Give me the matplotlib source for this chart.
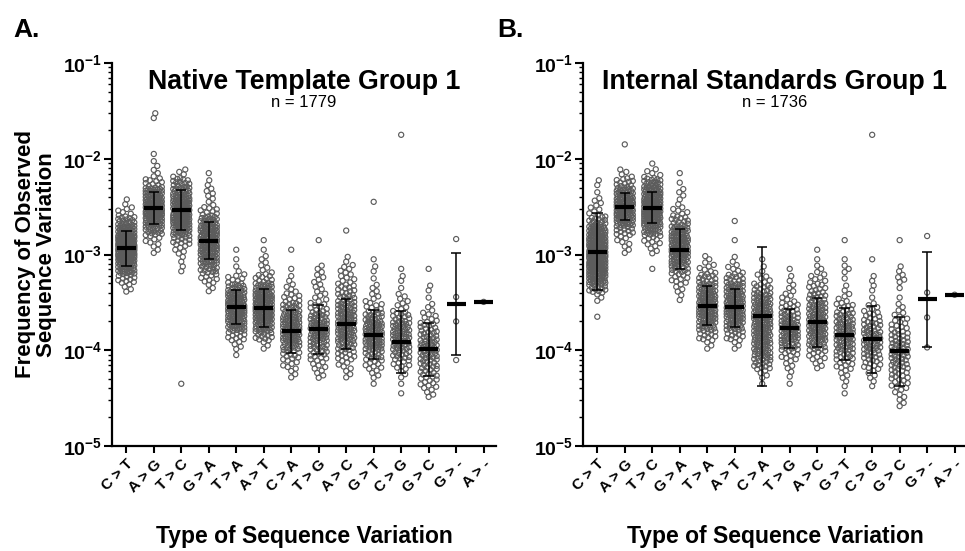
import numpy as np
import matplotlib
matplotlib.use("Agg")
import matplotlib.pyplot as plt
from matplotlib.ticker import LogLocator, NullFormatter

plt.rcParams['font.family'] = ['Liberation Sans', 'DejaVu Sans']
plt.rcParams['mathtext.fontset'] = 'custom'
plt.rcParams['mathtext.rm'] = 'Liberation Sans'
plt.rcParams['mathtext.bf'] = 'Liberation Sans:bold'
plt.rcParams['mathtext.it'] = 'Liberation Sans:italic'

# ---------------- data ----------------
categories = ["C > T", "A > G", "T > C", "G > A", "T > A", "A > T", "C > A",
              "T > G", "A > C", "G > T", "C > G", "G > C", "G > -", "A > -"]

BIN = 0.1  # histogram bin width (decades) used to describe the dense point clouds

# Panel A: Native Template Group 1  (n = 1779)
a_hist_start = [-3.4, -3.0, -4.4, -3.4, -4.1, -4.0, -4.3, -4.3, -4.3, -4.4, -4.5, -4.5]
a_hist_counts = [
    [4, 11, 25, 40, 50, 46, 30, 16, 6, 2],
    [3, 6, 16, 28, 40, 36, 24, 10, 3, 2, 1, 0, 0, 0, 2],
    [1] + [0] * 11 + [2, 2, 5, 12, 22, 32, 34, 32, 22, 14, 4],
    [3, 8, 14, 22, 28, 32, 28, 18, 9, 3, 4, 2, 1],
    [1, 4, 10, 20, 28, 32, 28, 16, 7, 2, 1, 1],
    [3, 12, 22, 30, 34, 30, 20, 10, 4, 3, 1, 1],
    [3, 6, 10, 16, 22, 24, 20, 14, 8, 4, 2, 1, 0, 1],
    [4, 6, 10, 14, 18, 20, 14, 8, 5, 4, 4, 3, 0, 0, 1],
    [3, 5, 10, 14, 18, 20, 18, 16, 12, 10, 6, 5, 2, 0, 0, 1],
    [1, 4, 8, 12, 18, 22, 20, 14, 8, 4, 3, 1, 2, 1, 0, 0, 0, 0, 0, 1],
    [1, 1, 3, 8, 12, 16, 18, 16, 11, 5, 4, 1, 2, 1] + [0] * 13 + [1],
    [4, 8, 10, 12, 14, 16, 13, 10, 6, 3, 1, 2, 0, 1],
]
a_small_values = [[1.45e-3, 3.6e-4, 2.0e-4, 7.9e-5], [3.2e-4]]
a_mean = [1.16e-3, 3.03e-3, 2.90e-3, 1.40e-3, 2.84e-4, 2.77e-4, 1.58e-4,
          1.67e-4, 1.89e-4, 1.46e-4, 1.23e-4, 1.02e-4, 3.02e-4, 3.16e-4]
a_low = [7.67e-4, 2.07e-3, 1.80e-3, 8.93e-4, 1.89e-4, 1.76e-4, 9.44e-5,
         9.12e-5, 1.02e-4, 8.13e-5, 5.75e-5, 5.37e-5, 8.85e-5, None]
a_high = [1.76e-3, 4.50e-3, 4.76e-3, 2.20e-3, 4.29e-4, 4.37e-4, 2.63e-4,
          3.00e-4, 3.46e-4, 2.63e-4, 2.57e-4, 1.91e-4, 1.03e-3, None]

# Panel B: Internal Standards Group 1  (n = 1736)
b_hist_start = [-3.7, -3.0, -3.2, -3.5, -4.0, -4.0, -4.4, -4.4, -4.2, -4.5, -4.4, -4.6]
b_hist_counts = [
    [1, 0, 3, 14, 30, 38, 42, 42, 36, 28, 14, 5, 4, 1, 2],
    [3, 5, 12, 24, 34, 34, 22, 11, 4, 0, 0, 1],
    [1, 0, 4, 8, 18, 30, 38, 38, 30, 17, 5, 1],
    [2, 4, 8, 14, 22, 28, 27, 20, 12, 6, 2, 3, 1, 1],
    [3, 10, 16, 22, 26, 24, 18, 12, 6, 3],
    [3, 10, 16, 22, 26, 24, 18, 12, 5, 2, 0, 1, 0, 1],
    [1, 4, 12, 16, 18, 20, 22, 22, 20, 16, 11, 5, 2, 1],
    [1, 2, 4, 8, 14, 18, 18, 14, 10, 5, 3, 2, 1],
    [4, 8, 14, 18, 20, 18, 16, 12, 9, 6, 3, 1, 1],
    [1, 2, 4, 8, 12, 15, 17, 16, 13, 9, 4, 2, 1, 3, 1, 0, 1],
    [2, 4, 9, 12, 15, 15, 12, 9, 5, 1, 2, 2, 0, 1] + [0] * 12 + [1],
    [3, 4, 8, 10, 12, 13, 13, 11, 8, 5, 3, 1, 1, 4, 2, 0, 0, 1],
]
b_small_values = [[1.56e-3, 4.0e-4, 2.2e-4, 1.07e-4], [3.8e-4]]
b_mean = [1.07e-3, 3.16e-3, 3.09e-3, 1.12e-3, 2.92e-4, 2.82e-4, 2.26e-4,
          1.69e-4, 1.95e-4, 1.46e-4, 1.30e-4, 9.8e-5, 3.47e-4, 3.80e-4]
b_low = [4.22e-4, 2.29e-3, 2.11e-3, 7.03e-4, 1.82e-4, 1.76e-4, 4.19e-5,
         1.05e-4, 1.07e-4, 7.94e-5, 5.75e-5, 4.27e-5, 1.07e-4, None]
b_high = [2.72e-3, 4.34e-3, 4.50e-3, 1.83e-3, 4.72e-4, 4.37e-4, 1.21e-3,
          2.72e-4, 3.51e-4, 2.75e-4, 2.92e-4, 2.24e-4, 1.07e-3, None]

y_tick_values = [1e-5, 1e-4, 1e-3, 1e-2, 1e-1]
y_tick_labels = [r'$\mathbf{10^{-5}}$', r'$\mathbf{10^{-4}}$', r'$\mathbf{10^{-3}}$',
                 r'$\mathbf{10^{-2}}$', r'$\mathbf{10^{-1}}$']

# ---------------- layout ----------------
W, H = 965, 551
fig = plt.figure(figsize=(W / 100, H / 100), dpi=100)


def fx(x):
    return x / W


def fy(y):
    return 1 - y / H


AX_TOP, AX_BOT = 63, 446
XLIM = (-0.52, 13.45)
POINT_COLOR = '#5c5c5c'


def hist_values(start, counts):
    vals = []
    for j, c in enumerate(counts):
        lo = start + j * BIN
        for k in range(c):
            vals.append(10 ** (lo + (k + 0.5) / c * BIN))
    return np.array(vals)


def swarm(ypix, d=5.0, wmax=8.0, step=0.5):
    """Deterministic beeswarm offsets (pixels), capped in width."""
    n = len(ypix)
    order = np.argsort(ypix)
    xs = np.zeros(n)
    c = np.arange(step, wmax + 1e-9, step)
    cands = np.concatenate([[0.0], np.column_stack([c, -c]).ravel()])
    py, px = [], []
    for idx in order:
        y = ypix[idx]
        ny, nx = [], []
        for q in range(len(py) - 1, -1, -1):
            if y - py[q] >= d:
                break
            ny.append(py[q])
            nx.append(px[q])
        if not ny:
            best = 0.0
        else:
            ny = np.array(ny)
            nx = np.array(nx)
            dist = np.sqrt((cands[:, None] - nx[None, :]) ** 2 + (y - ny[None, :]) ** 2).min(axis=1)
            ok = np.where(dist >= d)[0]
            if len(ok):
                best = cands[ok[0]]
            else:
                best = cands[np.argmax(dist)]
        xs[idx] = best
        py.append(y)
        px.append(best)
    return xs


def draw_panel(left, right, title, ntext, hist_start, hist_counts, small_values,
               means, lows, highs, ylabel):
    ax = fig.add_axes([fx(left), fy(AX_BOT), (right - left) / W, (AX_BOT - AX_TOP) / H])
    ax.set_yscale('log')
    ax.set_ylim(1e-5, 1e-1)
    ax.set_xlim(*XLIM)
    ppu = (right - left) / (XLIM[1] - XLIM[0])
    ppd = (AX_BOT - AX_TOP) / 4.0

    groups = [hist_values(s, c) for s, c in zip(hist_start, hist_counts)]
    groups += [np.array(v) for v in small_values]
    for i, vals in enumerate(groups):
        ypix = (np.log10(vals) + 5) * ppd
        offs = swarm(ypix)
        ax.scatter(i + offs / ppu, vals, s=3.7 ** 2, facecolors='none',
                   edgecolors=POINT_COLOR, linewidths=0.85, zorder=2, clip_on=False)

    for i, (m, lo, hi) in enumerate(zip(means, lows, highs)):
        if lo is not None:
            ax.vlines(i, lo, hi, color='black', lw=1.1, zorder=4)
            ax.hlines([lo, hi], i - 0.19, i + 0.19, color='black', lw=1.1, zorder=4)
        ax.hlines(m, i - 0.35, i + 0.35, color='black', lw=3.0, zorder=5)

    for s in ['top', 'right']:
        ax.spines[s].set_visible(False)
    for s in ['left', 'bottom']:
        ax.spines[s].set_linewidth(1.6)
    ax.set_yticks(y_tick_values)
    ax.set_yticklabels(y_tick_labels, fontsize=14)
    ax.yaxis.set_minor_locator(LogLocator(base=10, subs=np.arange(2, 10)))
    ax.yaxis.set_minor_formatter(NullFormatter())
    ax.tick_params(axis='y', which='major', length=6, width=1.5, pad=1)
    ax.tick_params(axis='y', which='minor', length=3, width=1.0)
    ax.set_xticks(range(len(categories)))
    ax.set_xticklabels(categories, rotation=45, ha='right', va='top',
                       rotation_mode='anchor', fontsize=11, fontweight='bold')
    ax.tick_params(axis='x', length=5, width=1.5, pad=3)

    cx = (left + right) / 2
    fig.text(fx(cx), fy(89), title, ha='center', va='baseline', fontsize=19.3, fontweight='bold')
    fig.text(fx(cx), fy(107), ntext, ha='center', va='baseline', fontsize=12)
    fig.text(fx(cx), fy(537), 'Type of Sequence Variation', ha='center', va='center',
             fontsize=16.5, fontweight='bold')
    if ylabel:
        fig.text(fx(36), fy((AX_TOP + AX_BOT) / 2), ylabel, ha='center', va='center',
                 rotation=90, fontsize=16, fontweight='bold', linespacing=1.0)
    return ax


draw_panel(112, 496, 'Native Template Group 1', 'n = 1779', a_hist_start, a_hist_counts,
           a_small_values, a_mean, a_low, a_high,
           'Frequency of Observed\nSequence Variation')
draw_panel(583, 967, 'Internal Standards Group 1', 'n = 1736', b_hist_start, b_hist_counts,
           b_small_values, b_mean, b_low, b_high, None)

fig.text(fx(13), fy(37), 'A.', ha='left', va='baseline', fontsize=19, fontweight='bold')
fig.text(fx(497), fy(37), 'B.', ha='left', va='baseline', fontsize=19, fontweight='bold')

fig.savefig('out.png', dpi=100)
